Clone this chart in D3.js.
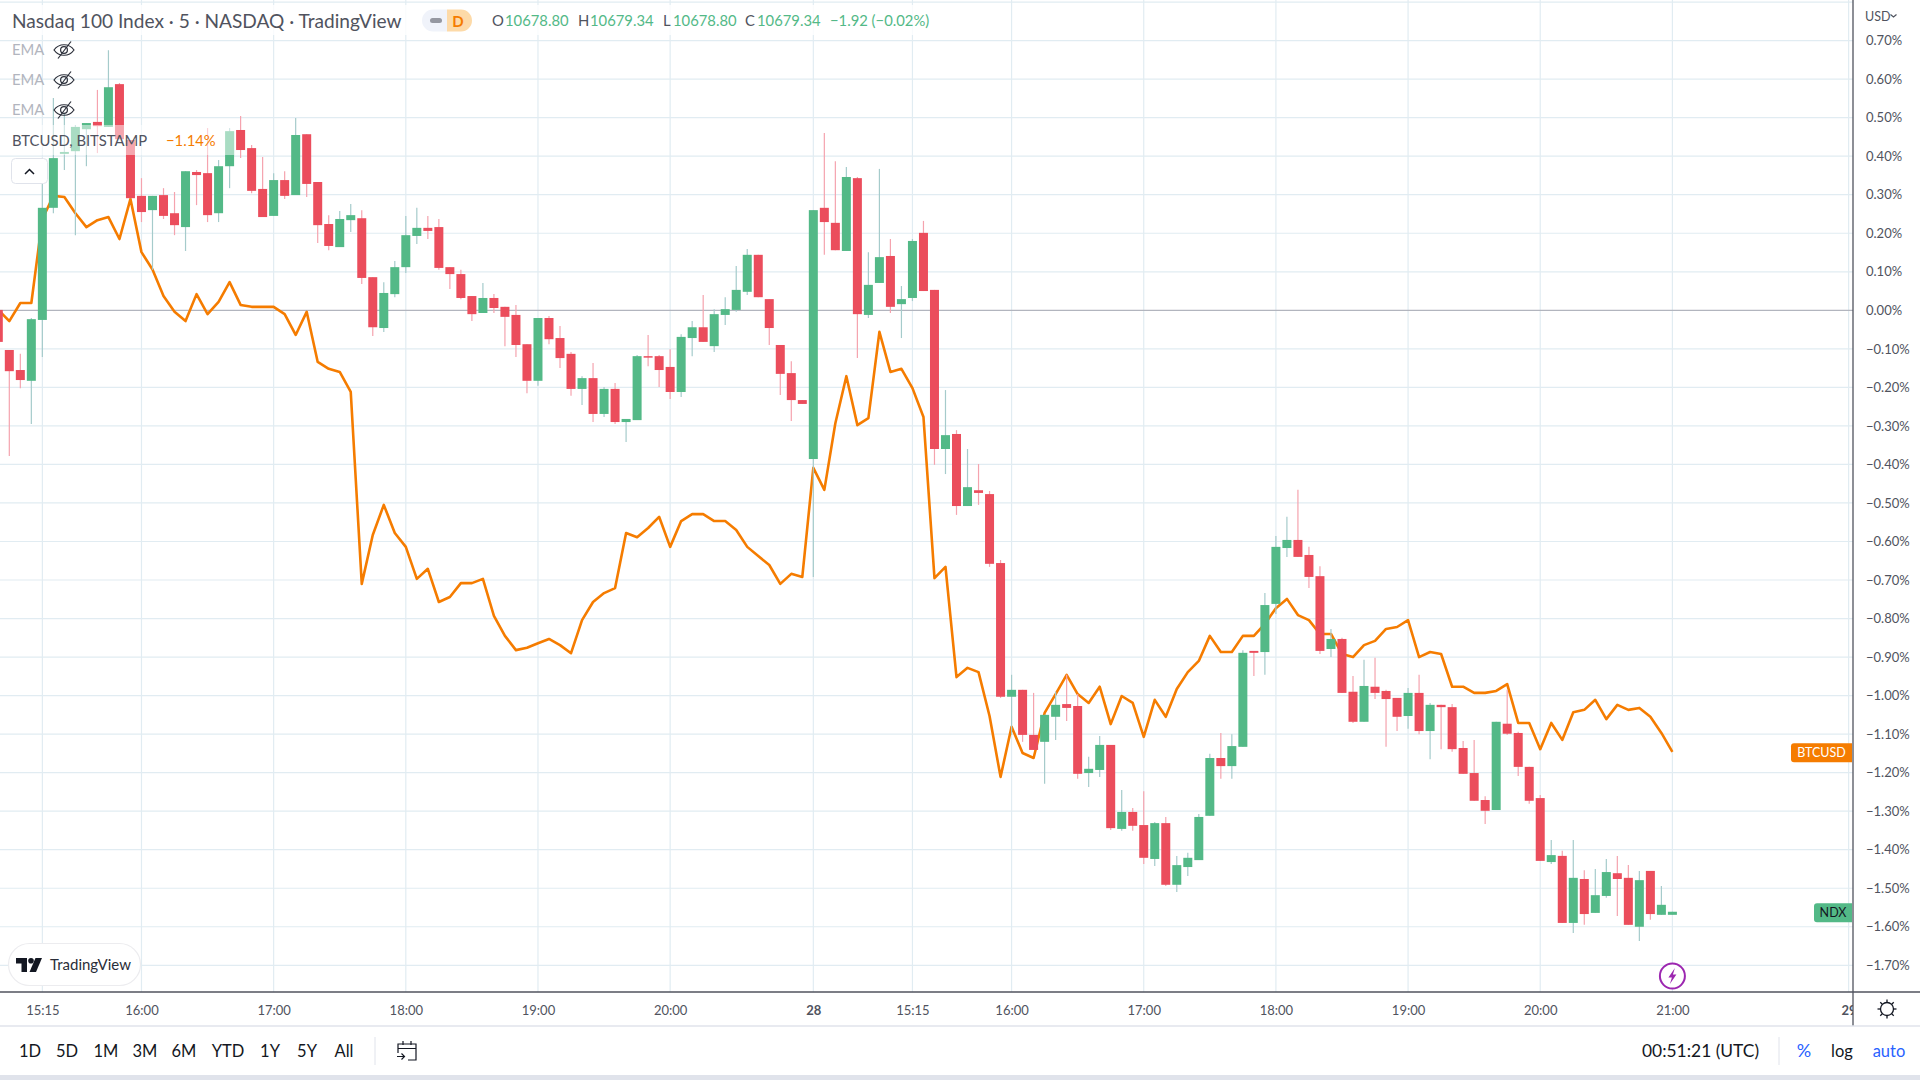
<!DOCTYPE html>
<html><head><meta charset="utf-8">
<script src="https://cdn.jsdelivr.net/npm/d3@7"></script>
<style>
html,body{margin:0;padding:0;background:#fff;overflow:hidden}
svg{display:block}
text{font-family:Lato,"Open Sans",sans-serif}
</style></head><body>
<svg id="c" width="1920" height="1080"></svg>
<script>
const opens=[.001,-.103,-.155,-.183,-.025,.266,.406,.413,.470,.489,
.476,.587,.442,.297,.260,.299,.252,.216,.359,.356,
.252,.374,.468,.421,.315,.245,.338,.299,.457,.333,
.224,.164,.234,.239,.086,-.046,.042,.112,.193,.214,
.216,.112,.094,.037,-.007,.032,.009,-.012,-.088,-.183,
-.020,-.072,-.113,-.204,-.176,-.269,-.204,-.290,-.285,-.119,
-.119,-.147,-.212,-.072,-.044,-.093,-.012,.001,.048,.144,
.029,-.090,-.163,-.233,-.386,.266,.227,.154,.343,-.012,
.071,.141,.016,.032,.201,.053,-.360,-.321,-.508,-.467,
-.477,-.656,-1.003,-.985,-1.102,-1.120,-1.055,-1.022,-1.027,-1.201,
-1.193,-1.128,-1.346,-1.302,-1.336,-1.424,-1.331,-1.491,-1.445,-1.427,
-1.312,-1.162,-1.183,-1.133,-.884,-.887,-.762,-.617,-.596,-.635,
-.690,-.879,-.853,-.990,-1.068,-.977,-.988,-1.006,-1.053,-.993,
-1.092,-1.024,-1.030,-1.136,-1.201,-1.271,-1.297,-1.073,-1.097,-1.185,
-1.266,-1.432,-1.416,-1.590,-1.476,-1.564,-1.520,-1.461,-1.473,-1.600,
-1.455,-1.569,-1.569];
const highs=[.014,-.103,-.113,-.020,.333,.551,.512,.481,.486,.572,
.675,.590,.442,.343,.297,.317,.307,.361,.364,.473,
.390,.473,.504,.429,.398,.356,.361,.499,.457,.333,
.247,.258,.276,.260,.086,.073,.128,.245,.266,.245,
.237,.112,.105,.037,.071,.042,.009,.014,-.088,-.020,
-.015,-.041,-.108,-.171,-.137,-.199,-.189,-.282,-.116,-.064,
-.116,-.101,-.062,-.028,.040,.003,.034,.115,.159,.144,
.029,-.090,-.132,-.233,.260,.460,.387,.372,.346,.151,
.367,.185,.063,.185,.232,.053,-.207,-.311,-.360,-.399,
-.469,-.648,-.946,-.985,-.993,-1.050,-.990,-.946,-.996,-1.159,
-1.105,-1.128,-1.245,-1.292,-1.248,-1.328,-1.315,-1.416,-1.408,-1.307,
-1.151,-1.097,-1.100,-.882,-.884,-.734,-.586,-.536,-.466,-.614,
-.664,-.827,-.850,-.949,-.907,-.902,-.985,-1.006,-.980,-.946,
-1.019,-1.024,-1.022,-1.118,-1.115,-1.261,-1.068,-.985,-1.094,-1.185,
-1.258,-1.375,-1.403,-1.375,-1.453,-1.450,-1.424,-1.416,-1.440,-1.455,
-1.455,-1.494,-1.561];
const lows=[-.090,-.378,-.202,-.295,-.121,.252,.364,.195,.374,.408,
.476,.444,.291,.229,.105,.237,.195,.154,.273,.229,
.229,.317,.395,.304,.242,.245,.289,.299,.294,.175,
.156,.164,.203,.068,-.067,-.056,.034,.097,.172,.185,
.105,.055,.029,-.028,-.007,-.007,-.093,-.121,-.215,-.196,
-.088,-.150,-.222,-.246,-.290,-.277,-.295,-.342,-.285,-.145,
-.199,-.230,-.225,-.119,-.082,-.108,-.038,-.004,.040,.034,
-.090,-.220,-.287,-.243,-.692,.144,.156,.154,-.124,-.020,
.071,-.007,-.072,.024,.050,-.401,-.425,-.531,-.508,-.505,
-.666,-1.006,-1.102,-1.120,-1.141,-1.229,-1.115,-1.066,-1.216,-1.237,
-1.211,-1.349,-1.351,-1.351,-1.437,-1.442,-1.494,-1.510,-1.468,-1.427,
-1.312,-1.216,-1.216,-1.133,-.949,-.946,-.788,-.640,-.640,-.721,
-.892,-.900,-.993,-1.071,-1.068,-1.009,-1.133,-1.092,-1.086,-1.100,
-1.165,-1.139,-1.146,-1.203,-1.273,-1.333,-1.297,-1.102,-1.209,-1.281,
-1.429,-1.437,-1.590,-1.616,-1.595,-1.564,-1.525,-1.572,-1.595,-1.637,
-1.582,-1.569,-1.569];
const closes=[-.082,-.158,-.181,-.023,.266,.395,.411,.476,.486,.478,
.579,.444,.291,.255,.297,.245,.221,.361,.351,.247,
.374,.465,.416,.310,.242,.338,.297,.455,.328,.221,
.167,.237,.247,.084,-.044,.045,.112,.195,.214,.206,
.110,.094,.032,-.010,.032,.006,-.017,-.090,-.183,-.020,
-.075,-.124,-.204,-.176,-.269,-.204,-.290,-.282,-.119,-.121,
-.155,-.212,-.069,-.044,-.082,-.010,.003,.053,.144,.034,
-.046,-.165,-.233,-.243,.260,.229,.156,.346,-.010,.066,
.138,.009,.029,.180,.050,-.360,-.324,-.508,-.459,-.474,
-.658,-1.003,-.985,-1.102,-1.141,-1.050,-1.024,-1.032,-1.203,-1.190,
-1.128,-1.344,-1.302,-1.338,-1.421,-1.331,-1.491,-1.440,-1.421,-1.315,
-1.162,-1.183,-1.131,-.889,-.889,-.765,-.614,-.596,-.640,-.692,
-.884,-.853,-.993,-1.068,-.975,-.993,-1.009,-1.055,-.993,-1.092,
-1.024,-1.030,-1.139,-1.203,-1.273,-1.299,-1.068,-1.099,-1.185,-1.273,
-1.429,-1.414,-1.590,-1.473,-1.567,-1.518,-1.458,-1.476,-1.595,-1.479,
-1.567,-1.543,-1.561];
const btcusd=[.001,-.028,.019,.019,.237,.297,.294,.252,.216,.234,
.242,.185,.289,.151,.106,.037,-.004,-.028,.042,-.010,
.022,.073,.014,.009,.009,.009,-.010,-.064,-.004,-.134,
-.152,-.160,-.212,-.710,-.583,-.505,-.578,-.614,-.697,-.671,
-.757,-.744,-.708,-.708,-.697,-.793,-.845,-.882,-.876,-.864,
-.853,-.869,-.890,-.804,-.757,-.734,-.721,-.578,-.589,-.565,
-.536,-.614,-.547,-.529,-.529,-.547,-.547,-.570,-.614,-.638,
-.661,-.710,-.684,-.692,-.409,-.466,-.293,-.171,-.298,-.280,
-.056,-.160,-.152,-.202,-.277,-.695,-.666,-.952,-.928,-.939,
-1.053,-1.211,-1.081,-1.149,-1.162,-1.045,-.996,-.946,-.996,-1.019,
-.977,-1.074,-1.001,-1.019,-1.107,-1.011,-1.055,-.983,-.939,-.910,
-.845,-.887,-.887,-.845,-.845,-.814,-.773,-.749,-.791,-.804,
-.840,-.840,-.892,-.900,-.869,-.858,-.827,-.822,-.804,-.900,
-.887,-.892,-.977,-.977,-.993,-.993,-.988,-.970,-1.071,-1.071,
-1.139,-1.071,-1.115,-1.043,-1.037,-1.011,-1.061,-1.024,-1.037,-1.032,
-1.055,-1.097,-1.146];
const timeTickIndex=[4,13,25,37,49,61,74,83,92,104,116,128,140,152,168];
const timeTickLabels=["15:15","16:00","17:00","18:00","19:00","20:00","28","15:15","16:00","17:00","18:00","19:00","20:00","21:00","29"];
const boldTimeLabels=["28","29"];
const pctTicks=[.7,.6,.5,.4,.3,.2,.1,0,-.1,-.2,-.3,-.4,-.5,-.6,-.7,-.8,-.9,-1,-1.1,-1.2,-1.3,-1.4,-1.5,-1.6,-1.7];
const extraGrid=[.8];
const rangeLabels=["1D","5D","1M","3M","6M","YTD","1Y","5Y","All"];
const rangeCenters=[30,67,106,145,184,228,270,307,344];

const W=1853,H=992;
const UP="#53b987",DOWN="#eb4d5c",UPW="#a5cbcb",DOWNW="#f5a3ae",ORANGE="#f57c00",GRID="#e1ecf2",TXT="#50535e";
const svg=d3.select("#c");
const fmtPct=v=>(v<0?"\u2212":"")+Math.abs(v).toFixed(2)+"%";
const x=d3.scaleLinear().domain([0,152]).range([-1.7,1672.4]);
const y=d3.scaleLinear().domain([-1.7,.7]).range([965.3,40.6]);
const candles=opens.map((o,i)=>({i,o,h:highs[i],l:lows[i],c:closes[i]}));

const defs=svg.append("defs");
defs.append("clipPath").attr("id","pane").append("rect").attr("width",W).attr("height",H);

const pane=svg.append("g").attr("clip-path","url(#pane)");
pane.append("g").selectAll("line").data(timeTickIndex).join("line")
 .attr("x1",d=>x(d)).attr("x2",d=>x(d)).attr("y1",0).attr("y2",H)
 .attr("stroke",GRID).attr("stroke-width",1.2);
pane.append("g").selectAll("line").data(pctTicks.concat(extraGrid).filter(d=>d!==0)).join("line")
 .attr("x1",0).attr("x2",W).attr("y1",d=>y(d)).attr("y2",d=>y(d))
 .attr("stroke",GRID).attr("stroke-width",1.2);
pane.append("line").attr("x1",0).attr("x2",W).attr("y1",y(0)).attr("y2",y(0)).attr("stroke","#b2b5be").attr("stroke-width",1.3);

pane.append("path").datum(btcusd)
 .attr("d",d3.line().x((d,i)=>x(i)).y(d=>y(d)))
 .attr("fill","none").attr("stroke",ORANGE).attr("stroke-width",2.6).attr("stroke-linejoin","round");

pane.append("g").selectAll("line").data(candles).join("line")
 .attr("x1",d=>x(d.i)).attr("x2",d=>x(d.i)).attr("y1",d=>y(d.h)).attr("y2",d=>y(d.l))
 .attr("stroke",d=>d.c>=d.o?UPW:DOWNW).attr("stroke-width",1.2);
pane.append("g").selectAll("rect").data(candles).join("rect")
 .attr("x",d=>x(d.i)-4.5).attr("width",9)
 .attr("y",d=>y(Math.max(d.o,d.c)))
 .attr("height",d=>Math.max(1.5,Math.abs(y(d.o)-y(d.c))))
 .attr("fill",d=>d.c>=d.o?UP:DOWN);

// purple lightning marker
const bolt=svg.append("g").attr("transform",`translate(${x(152)},976)`);
bolt.append("circle").attr("r",12.5).attr("fill","#fff").attr("stroke","#9c27b0").attr("stroke-width",2);
bolt.append("path").attr("d","M2.5,-8 L-4,1.5 L-0.5,1.5 L-2.5,8 L4,-1.5 L0.5,-1.5 Z").attr("fill","#9c27b0");

// header overlay + text
svg.append("rect").attr("x",0).attr("y",5).attr("width",945).attr("height",30).attr("fill","#fff").attr("opacity",.8);
svg.append("rect").attr("x",8).attr("y",125).attr("width",226).attr("height",30).attr("fill","#fff").attr("opacity",.5);
svg.append("text").attr("x",12).attr("y",27.5).attr("font-size",19.1).attr("fill","#50535e").attr("id","title")
 .text("Nasdaq 100 Index \u00b7 5 \u00b7 NASDAQ \u00b7 TradingView");
svg.append("path").attr("d","M447,9.5 H433 a11,11 0 0 0 0,22 H447 Z").attr("fill","#f0f3fa");
svg.append("path").attr("d","M447,9.5 H461 a11,11 0 0 1 0,22 H447 Z").attr("fill","#fddaa8");
svg.append("rect").attr("x",430).attr("y",18).attr("width",12).attr("height",5).attr("rx",2.5).attr("fill","#9598a1");
svg.append("text").attr("x",458).attr("y",26.5).attr("text-anchor","middle").attr("font-size",15).attr("font-weight",700).attr("fill",ORANGE).text("D");
const ohlcLabels=[["O",492],["H",578],["L",663],["C",745]];
const ohlcValues=[["10678.80",505],["10679.34",590],["10678.80",673],["10679.34",757],["\u22121.92 (\u22120.02%)",830]];
svg.append("g").selectAll("text").data(ohlcLabels).join("text").attr("x",d=>d[1]).attr("y",26).attr("font-size",14.8).attr("fill",TXT).text(d=>d[0]);
svg.append("g").selectAll("text").data(ohlcValues).join("text").attr("x",d=>d[1]).attr("y",26).attr("font-size",14.8).attr("fill",UP).text(d=>d[0]);

// legend
const emaY=[50,80,110];
emaY.forEach(v=>{
 svg.append("text").attr("x",12).attr("y",v+5).attr("font-size",14.8).attr("fill","#b2b5be").text("EMA");
 const g=svg.append("g").attr("transform",`translate(64,${v})`).attr("fill","none").attr("stroke","#2a2e39").attr("stroke-width",1.2);
 g.append("path").attr("d","M-10,0 C-5,-7 5,-7 10,0 C5,7 -5,7 -10,0 Z");
 g.append("circle").attr("r",3.4);
 g.append("path").attr("d","M-6,8.5 L7,-8.5");
});
svg.append("text").attr("x",12).attr("y",146).attr("font-size",14.8).attr("fill",TXT).text("BTCUSD, BITSTAMP");
svg.append("text").attr("x",166).attr("y",146).attr("font-size",14.8).attr("fill",ORANGE).text("\u22121.14%");
svg.append("rect").attr("x",11.5).attr("y",158.5).attr("width",36).attr("height",25).attr("rx",4).attr("fill","#fff").attr("stroke","#e0e3eb");
svg.append("path").attr("d","M25,174 L29.5,169.5 L34,174").attr("fill","none").attr("stroke","#131722").attr("stroke-width",1.5);

// logo
svg.append("rect").attr("x",8.5).attr("y",943.5).attr("width",132).attr("height",42).attr("rx",21).attr("fill","#fff").attr("stroke","#ececef").attr("stroke-width",1.2);
const logo=svg.append("g").attr("transform","translate(16,958)").attr("fill","#131722");
logo.append("path").attr("d","M0,0 H11 V14 H5.5 V5.5 H0 Z");
logo.append("circle").attr("cx",15).attr("cy",2.8).attr("r",2.8);
logo.append("path").attr("d","M19.5,0 H26 L20,14 H13.5 Z");
svg.append("text").attr("x",50).attr("y",970).attr("font-size",15).attr("fill","#2a2e39").text("TradingView");

// price axis
const yAxis=d3.axisRight(y).tickValues(pctTicks).tickSize(0).tickPadding(12).tickFormat(fmtPct);
const yG=svg.append("g").attr("transform",`translate(${W+1},0)`).call(yAxis);
yG.select(".domain").remove();
yG.selectAll("text").attr("font-size",13).attr("fill",TXT).style("font-family","Lato,sans-serif");
svg.append("text").attr("x",1865).attr("y",21).attr("font-size",12.5).attr("fill","#50535e").text("USD");
svg.append("path").attr("d","M1890.5,14.5 L1893.5,17 L1896.5,14.5").attr("fill","none").attr("stroke","#50535e").attr("stroke-width",1.2);

// tags
function tag(x0,y0,w,h,fill,color,label){
 svg.append("path").attr("d",`M${x0+3},${y0} H${x0+w} V${y0+h} H${x0+3} a3,3 0 0 1 -3,-3 V${y0+3} a3,3 0 0 1 3,-3 Z`).attr("fill",fill);
 svg.append("text").attr("x",x0+w/2).attr("y",y0+h/2+4.5).attr("text-anchor","middle").attr("font-size",12.5).attr("fill",color).text(label);
}
tag(1791,y(btcusd[152])-8.5,61,19,ORANGE,"#fff","BTCUSD");
tag(1814,y(closes[152])-8.5,38,19,UP,"#131722","NDX");

// time axis
defs.append("clipPath").attr("id","taxis2").append("rect").attr("x",0).attr("y",0).attr("width",W).attr("height",40);
const xAxis=d3.axisBottom(x).tickValues(timeTickIndex).tickSize(0).tickPadding(13.5).tickFormat((d,i)=>timeTickLabels[i]);
const xG=svg.append("g").attr("transform",`translate(0,${H})`).attr("clip-path","url(#taxis2)").call(xAxis);
xG.select(".domain").remove();
xG.selectAll("text").attr("font-size",13).attr("fill",TXT).style("font-family","Lato,sans-serif")
 .attr("font-weight",(d,i)=>boldTimeLabels.includes(timeTickLabels[i])?700:400);

// axis frame lines
svg.append("line").attr("x1",0).attr("x2",1920).attr("y1",H).attr("y2",H).attr("stroke","#50535e").attr("stroke-width",1.3);
svg.append("line").attr("x1",W).attr("x2",W).attr("y1",0).attr("y2",1026).attr("stroke","#50535e").attr("stroke-width",1.3);
svg.append("line").attr("x1",0).attr("x2",1920).attr("y1",1026).attr("y2",1026).attr("stroke","#e0e3eb").attr("stroke-width",1.3);
svg.append("rect").attr("x",0).attr("y",1075).attr("width",1920).attr("height",5).attr("fill","#e0e3eb");

// gear
const gear=svg.append("g").attr("transform","translate(1887,1009)").attr("fill","none").attr("stroke","#131722").attr("stroke-width",1.3);
gear.append("circle").attr("r",6.5);
d3.range(8).forEach(i=>{const a=i*Math.PI/4;
 gear.append("line").attr("x1",6.5*Math.cos(a)).attr("y1",6.5*Math.sin(a)).attr("x2",9.5*Math.cos(a)).attr("y2",9.5*Math.sin(a));});

// toolbar
svg.append("g").selectAll("text").data(rangeLabels).join("text")
 .attr("x",(d,i)=>rangeCenters[i]).attr("y",1056.5).attr("text-anchor","middle").attr("font-size",16.5).attr("fill","#131722").text(d=>d);
svg.append("line").attr("x1",375).attr("x2",375).attr("y1",1037).attr("y2",1065).attr("stroke","#e0e3eb");
const cal=svg.append("g").attr("transform","translate(397,1041)").attr("fill","none").attr("stroke","#131722").attr("stroke-width",1.2);
cal.append("path").attr("d","M1,12 V3 H19 V19 H11");
cal.append("path").attr("d","M1,7.5 H19 M6,0 V4 M14,0 V4");
cal.append("path").attr("d","M0,15.5 H7 M4.5,12.5 L7.5,15.5 L4.5,18.5");

svg.append("text").attr("x",1642).attr("y",1056.5).attr("font-size",17.4).attr("fill","#131722").text("00:51:21 (UTC)");
svg.append("line").attr("x1",1779).attr("x2",1779).attr("y1",1037).attr("y2",1065).attr("stroke","#e0e3eb");
svg.append("text").attr("x",1804).attr("y",1057).attr("text-anchor","middle").attr("font-size",18).attr("fill","#2962ff").text("%");
svg.append("text").attr("x",1842).attr("y",1056.5).attr("text-anchor","middle").attr("font-size",16.5).attr("fill","#131722").text("log");
svg.append("text").attr("x",1889).attr("y",1056.5).attr("text-anchor","middle").attr("font-size",16.5).attr("fill","#2962ff").text("auto");
</script></body></html>
